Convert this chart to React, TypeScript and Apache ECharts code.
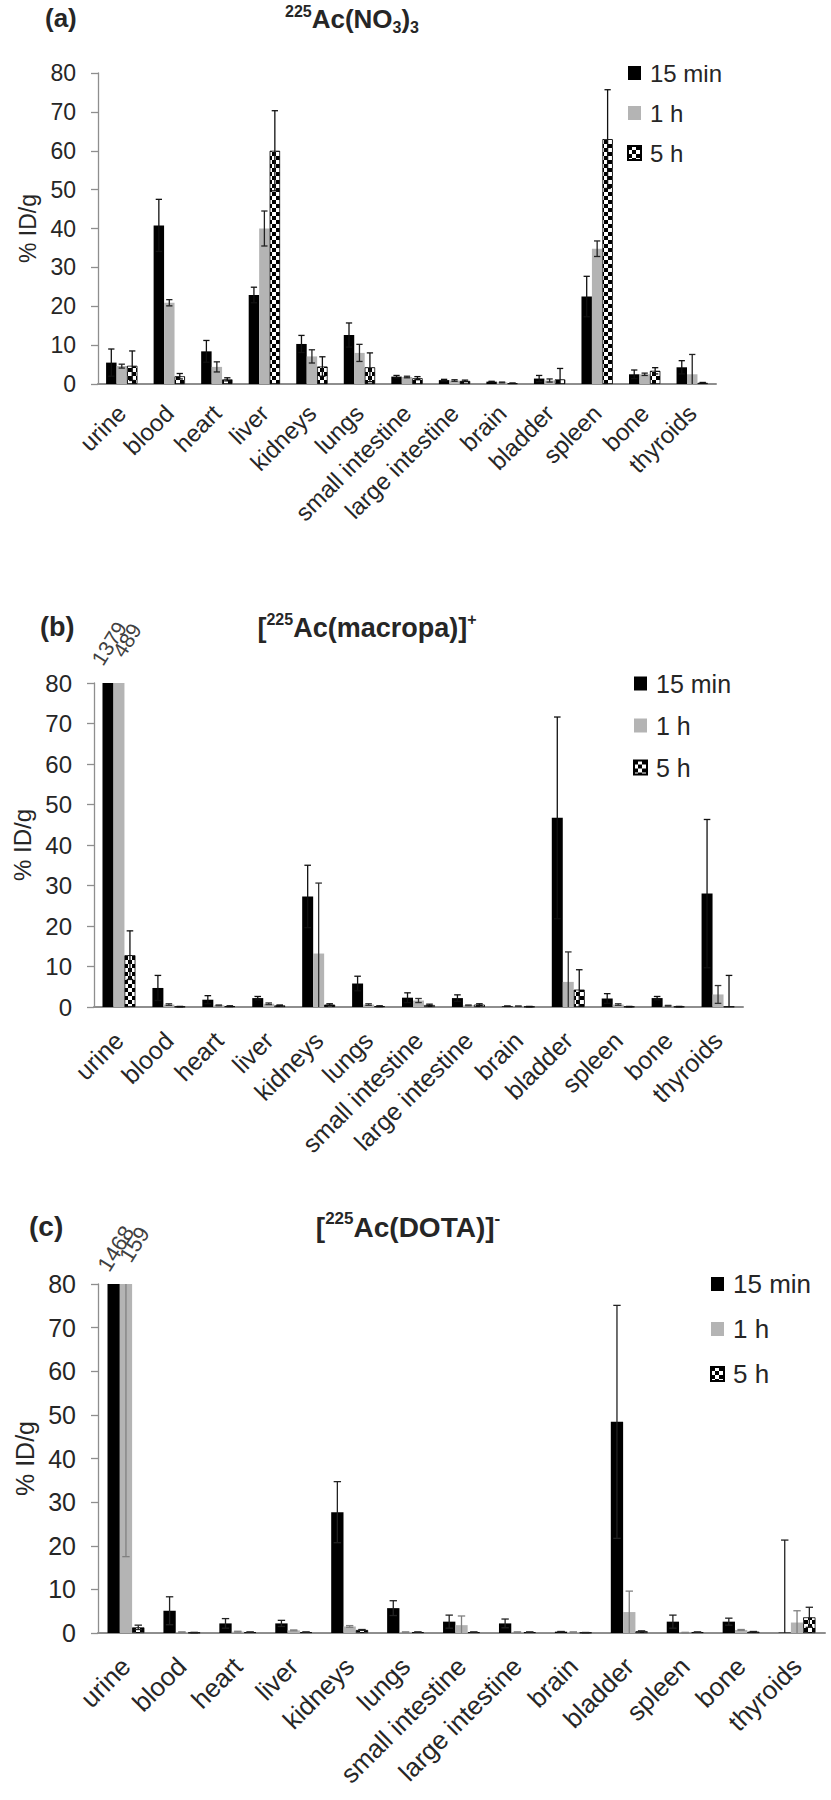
import React, { useEffect, useRef } from 'react';
import * as echarts from 'echarts';

const categories = ['urine', 'blood', 'heart', 'liver', 'kidneys', 'lungs', 'small intestine', 'large intestine', 'brain', 'bladder', 'spleen', 'bone', 'thyroids'];
const seriesNames = ['15 min', '1 h', '5 h'];
const YMIN = 0;
const YMAX = 80;
const YSTEP = 10;

// Panel (a) 225Ac(NO3)3
const a15 = [5.5, 40.8, 8.4, 22.9, 10.3, 12.6, 1.9, 1.0, 0.6, 1.4, 22.5, 2.5, 4.3];
const a15Err = [3.5, 6.7, 2.8, 2.0, 2.2, 3.1, 0.3, 0.2, 0.1, 0.8, 5.2, 1.1, 1.7];
const a1h = [4.6, 20.9, 4.4, 40.0, 7.1, 8.0, 1.8, 0.9, 0.4, 0.9, 34.8, 2.5, 2.5];
const a1hErr = [0.5, 0.8, 1.3, 4.5, 1.7, 2.2, 0.2, 0.2, 0.1, 0.4, 2.0, 0.3, 5.1];
const a5h = [4.7, 2.0, 1.2, 60.0, 4.5, 4.3, 1.5, 0.8, 0.2, 1.2, 63.0, 3.4, 0.3];
const a5hErr = [3.8, 0.7, 0.4, 10.3, 2.5, 3.7, 0.4, 0.2, 0.05, 2.8, 12.7, 0.8, 0.1];

// Panel (b) [225Ac(macropa)]+
const b15 = [1379, 4.7, 1.8, 2.2, 27.3, 5.8, 2.3, 2.2, 0.2, 46.7, 2.1, 2.2, 28.0];
const b15Err = [300, 3.1, 1.0, 0.4, 7.7, 1.8, 1.2, 0.8, 0.05, 24.9, 1.2, 0.4, 18.3];
const b1h = [489, 0.6, 0.4, 0.8, 13.2, 0.6, 1.6, 0.4, 0.2, 6.2, 0.6, 0.3, 3.1];
const b1hErr = [120, 0.2, 0.1, 0.2, 17.4, 0.2, 0.5, 0.1, 0.05, 7.4, 0.2, 0.1, 2.2];
const b5h = [12.8, 0.1, 0.2, 0.4, 0.6, 0.2, 0.5, 0.6, 0.1, 4.3, 0.1, 0.1, 0.1];
const b5hErr = [6.0, 0.05, 0.1, 0.1, 0.2, 0.1, 0.2, 0.2, 0.05, 4.9, 0.05, 0.05, 7.7];

// Panel (c) [225Ac(DOTA)]-
const c15 = [1468, 5.1, 2.2, 2.2, 27.7, 5.7, 2.6, 2.2, 0.3, 48.4, 2.6, 2.6, 0.1];
const c15Err = [350, 3.2, 1.1, 0.7, 7.0, 1.7, 1.5, 1.0, 0.05, 26.7, 1.5, 0.8, 21.2];
const c1h = [159, 0.2, 0.3, 0.6, 1.5, 0.2, 1.8, 0.2, 0.2, 4.8, 0.1, 0.7, 2.4];
const c1hErr = [141.5, 0.05, 0.1, 0.1, 0.2, 0.05, 2.1, 0.05, 0.05, 4.8, 0.05, 0.1, 2.7];
const c5h = [1.3, 0.1, 0.2, 0.2, 0.7, 0.2, 0.2, 0.2, 0.1, 0.4, 0.2, 0.3, 3.6];
const c5hErr = [0.5, 0.05, 0.05, 0.05, 0.1, 0.05, 0.05, 0.05, 0.02, 0.1, 0.05, 0.05, 2.3];

const FONT = '"Liberation Sans", Arial, Helvetica, sans-serif';
const TXT = '#262626';
const GRAY = '#b4b4b4';
const AXIS = '#8e8e8e';
const GAP = 0.34;

function checker(): HTMLCanvasElement {
  const c = document.createElement('canvas');
  c.width = 8;
  c.height = 8;
  const ctx = c.getContext('2d')!;
  ctx.fillStyle = '#ffffff';
  ctx.fillRect(0, 0, 8, 8);
  ctx.fillStyle = '#000000';
  ctx.fillRect(0, 0, 4, 4);
  ctx.fillRect(4, 4, 4, 4);
  return c;
}

type Panel = {
  grid: { left: number; top: number; width: number; height: number };
  font: number;
  labelMargin: number;
  vals: number[][];
  errs: number[][];
  errColors: string[];
  offLabels: { k: number; dx: number; dist: number }[];
  legend: { left: number; top: number; gap: number };
};

const panels: Panel[] = [
  {
    grid: { left: 98, top: 73, width: 618, height: 311 },
    font: 23,
    labelMargin: 25,
    vals: [a15, a1h, a5h],
    errs: [a15Err, a1hErr, a5hErr],
    errColors: ['#111', '#222', '#111'],
    offLabels: [],
    legend: { left: 627, top: 61, gap: 16 },
  },
  {
    grid: { left: 94, top: 683, width: 649, height: 324 },
    font: 24,
    labelMargin: 29,
    vals: [b15, b1h, b5h],
    errs: [b15Err, b1hErr, b5hErr],
    errColors: ['#111', '#333', '#111'],
    offLabels: [
      { k: 0, dx: 2, dist: 38 },
      { k: 1, dx: 15, dist: 30 },
    ],
    legend: { left: 633, top: 671, gap: 17 },
  },
  {
    grid: { left: 98, top: 1284, width: 727, height: 349 },
    font: 25,
    labelMargin: 29,
    vals: [c15, c1h, c5h],
    errs: [c15Err, c1hErr, c5hErr],
    errColors: ['#222', '#808080', '#222'],
    offLabels: [
      { k: 0, dx: 4, dist: 32 },
      { k: 1, dx: 16, dist: 26 },
    ],
    legend: { left: 710, top: 1271, gap: 19 },
  },
];

const titles = [
  { tag: '(a)', tagLeft: 45, tagTop: 5, text: '{sup|225}{m|Ac(NO}{sub|3}{m|)}{sub|3}', cx: 352, top: 3 },
  { tag: '(b)', tagLeft: 40, tagTop: 613, text: '{m|[}{sup|225}{m|Ac(macropa)]}{sup|+}', cx: 367, top: 611 },
  { tag: '(c)', tagLeft: 29, tagTop: 1212, text: '{m|[}{sup|225}{m|Ac(DOTA)]}{sup|-}', cx: 408, top: 1210 },
];

function errSeries(p: number, k: number, vals: number[], errs: number[], color: string) {
  return {
    type: 'custom',
    name: `err-${p}-${k}`,
    xAxisIndex: p,
    yAxisIndex: p,
    z: 5,
    silent: true,
    encode: { x: 0, y: 1 },
    data: vals.map((v, i) => [i, v, errs[i]]),
    renderItem: (params: any, api: any) => {
      const i = api.value(0);
      const v = api.value(1);
      const e = api.value(2);
      const band = api.size([1, 0])[0];
      const bw = (band * (1 - GAP)) / 3;
      const cx = api.coord([i, 0])[0] + (k - 1) * bw;
      const top = v + e;
      const bot = Math.max(v - e, YMIN);
      if (bot >= YMAX) return null;
      const yT = api.coord([i, Math.min(top, YMAX)])[1];
      const yB = api.coord([i, bot])[1];
      const cw = Math.max(bw * 0.3, 3);
      const st = { stroke: color, lineWidth: 1.3 };
      const children: any[] = [
        { type: 'line', shape: { x1: cx, y1: yT, x2: cx, y2: yB }, style: st },
      ];
      if (top <= YMAX) children.push({ type: 'line', shape: { x1: cx - cw, y1: yT, x2: cx + cw, y2: yT }, style: st });
      if (v - e > YMIN) children.push({ type: 'line', shape: { x1: cx - cw, y1: yB, x2: cx + cw, y2: yB }, style: st });
      return { type: 'group', children };
    },
  };
}

export default function App() {
  const ref = useRef<HTMLDivElement>(null);
  useEffect(() => {
    if (!ref.current) return;
    document.body.style.margin = '0';
    const chart = echarts.init(ref.current, undefined, { renderer: 'svg' });
    const pattern = { image: checker(), repeat: 'repeat' };
    const colors: any[] = ['#000000', GRAY, pattern];

    const grids: any[] = [];
    const xAxes: any[] = [];
    const yAxes: any[] = [];
    const series: any[] = [];
    const legends: any[] = [];
    const titleList: any[] = [];

    panels.forEach((pn, p) => {
      grids.push({ ...pn.grid, containLabel: false });
      xAxes.push({
        type: 'category',
        gridIndex: p,
        data: categories,
        axisLine: { show: true, lineStyle: { color: AXIS, width: 2 } },
        axisTick: { show: false },
        axisLabel: {
          interval: 0,
          rotate: 45,
          fontSize: pn.font + 1,
          fontFamily: FONT,
          color: TXT,
          margin: pn.labelMargin,
        },
        splitLine: { show: false },
      });
      yAxes.push({
        type: 'value',
        gridIndex: p,
        min: YMIN,
        max: YMAX,
        interval: YSTEP,
        name: '% ID/g',
        nameLocation: 'middle',
        nameGap: 55,
        nameTextStyle: { fontSize: pn.font, fontFamily: FONT, color: TXT },
        axisLine: { show: true, lineStyle: { color: AXIS, width: 1.3 } },
        axisTick: { show: true, length: 7, lineStyle: { color: AXIS, width: 1.3 } },
        axisLabel: { fontSize: pn.font, fontFamily: FONT, color: TXT, margin: 22 },
        splitLine: { show: false },
      });
      seriesNames.forEach((nm, k) => {
        const data = pn.vals[k].map((v, i) => {
          const lab = pn.offLabels.find((o) => o.k === k);
          if (v > YMAX && lab) {
            return {
              value: v,
              label: {
                show: true,
                position: 'top',
                formatter: String(v),
                rotate: 58,
                align: 'center',
                verticalAlign: 'middle',
                distance: lab.dist,
                offset: [lab.dx, 0],
                fontSize: pn.font - 3,
                fontFamily: FONT,
                color: '#404040',
              },
            };
          }
          return v;
        });
        series.push({
          type: 'bar',
          name: nm,
          xAxisIndex: p,
          yAxisIndex: p,
          data,
          barGap: '0%',
          barCategoryGap: `${GAP * 100}%`,
          clip: true,
          itemStyle: {
            color: colors[k],
            borderColor: k === 2 ? '#000' : undefined,
            borderWidth: k === 2 ? 0.8 : 0,
          },
        });
      });
      seriesNames.forEach((nm, k) => {
        series.push(errSeries(p, k, pn.vals[k], pn.errs[k], pn.errColors[k]));
      });
      legends.push({
        data: seriesNames,
        orient: 'vertical',
        left: pn.legend.left,
        top: pn.legend.top,
        itemGap: pn.legend.gap,
        itemWidth: 13,
        itemHeight: 14,
        padding: 0,
        icon: 'rect',
        selectedMode: false,
        textStyle: { fontSize: pn.font + 1, fontFamily: FONT, color: TXT, padding: [0, 0, 0, 4] },
      });
      const t = titles[p];
      const tf = pn.font + 3;
      titleList.push({
        text: t.tag,
        left: t.tagLeft,
        top: t.tagTop,
        padding: 0,
        textStyle: { fontSize: tf, fontWeight: 'bold', fontFamily: FONT, color: TXT },
      });
      titleList.push({
        text: t.text,
        left: t.cx,
        top: t.top,
        padding: 0,
        textAlign: 'center',
        textStyle: {
          fontFamily: FONT,
          color: TXT,
          rich: {
            m: { fontSize: tf, fontWeight: 'bold', fontFamily: FONT, color: TXT, lineHeight: tf + 6, verticalAlign: 'middle' },
            sup: { fontSize: Math.round(tf * 0.6), fontWeight: 'bold', fontFamily: FONT, color: TXT, lineHeight: Math.round(tf * 0.6), verticalAlign: 'top' },
            sub: { fontSize: Math.round(tf * 0.6), fontWeight: 'bold', fontFamily: FONT, color: TXT, lineHeight: Math.round(tf * 0.6), verticalAlign: 'bottom' },
          },
        },
      });
    });

    chart.setOption({
      animation: false,
      backgroundColor: '#ffffff',
      title: titleList,
      grid: grids,
      xAxis: xAxes,
      yAxis: yAxes,
      legend: legends,
      series,
    });
    return () => chart.dispose();
  }, []);
  return <div ref={ref} style={{ width: 831, height: 1800, position: 'absolute', left: 0, top: 0 }} />;
}
